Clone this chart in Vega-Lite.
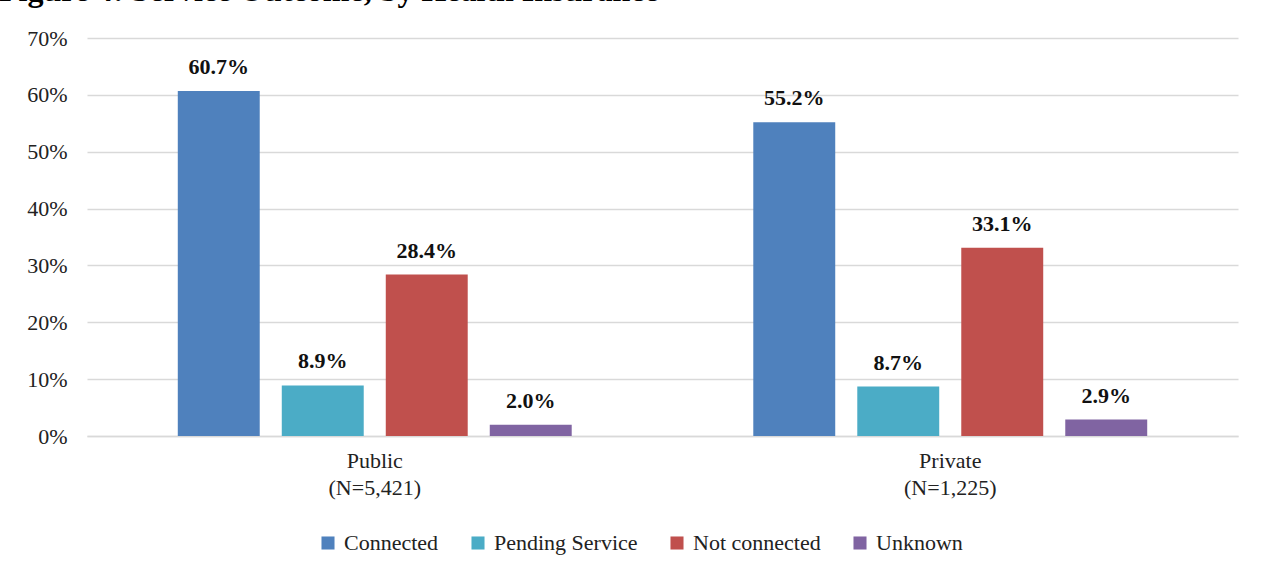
{
  "$schema": "https://vega.github.io/schema/vega-lite/v6.json",
  "width": 1151,
  "height": 398,
  "autosize": {"type": "none"},
  "padding": {"left": 87, "top": 38, "right": 28, "bottom": 138},
  "background": "white",
  "title": {
    "text": "Figure 4: Service Outcome, by Health Insurance",
    "anchor": "start",
    "frame": "group",
    "font": "Liberation Serif, Times New Roman, serif",
    "fontSize": 32,
    "fontWeight": "bold",
    "color": "black",
    "baseline": "alphabetic",
    "dx": -88,
    "offset": 0,
    "dy": 6
  },
  "data": {
    "values": [
      {"group": "Public|(N=5,421)", "outcome": "Connected", "pct": 0.607},
      {"group": "Public|(N=5,421)", "outcome": "Pending Service", "pct": 0.089},
      {"group": "Public|(N=5,421)", "outcome": "Not connected", "pct": 0.284},
      {"group": "Public|(N=5,421)", "outcome": "Unknown", "pct": 0.020},
      {"group": "Private|(N=1,225)", "outcome": "Connected", "pct": 0.552},
      {"group": "Private|(N=1,225)", "outcome": "Pending Service", "pct": 0.087},
      {"group": "Private|(N=1,225)", "outcome": "Not connected", "pct": 0.331},
      {"group": "Private|(N=1,225)", "outcome": "Unknown", "pct": 0.029}
    ]
  },
  "encoding": {
    "x": {
      "field": "group",
      "type": "nominal",
      "sort": null,
      "scale": {"paddingInner": 0, "paddingOuter": 0},
      "axis": {
        "title": null,
        "labelAngle": 0,
        "labelExpr": "split(datum.value, '|')",
        "labelFontSize": 22,
        "labelColor": "#222222",
        "labelLineHeight": 27,
        "labelPadding": 14,
        "ticks": false,
        "domainColor": "#d9d9d9",
        "domainWidth": 1.5,
        "grid": false
      }
    },
    "xOffset": {
      "field": "outcome",
      "type": "nominal",
      "sort": ["Connected", "Pending Service", "Not connected", "Unknown"],
      "scale": {"paddingInner": 0.212, "paddingOuter": 0.873}
    },
    "y": {
      "field": "pct",
      "type": "quantitative",
      "scale": {"domain": [0, 0.7]},
      "axis": {
        "title": null,
        "values": [0, 0.1, 0.2, 0.3, 0.4, 0.5, 0.6, 0.7],
        "format": ".0%",
        "labelFontSize": 22,
        "labelColor": "#222222",
        "labelPadding": 20,
        "ticks": false,
        "domain": false,
        "gridColor": "#d9d9d9",
        "gridWidth": 1.5
      }
    }
  },
  "layer": [
    {
      "mark": {"type": "bar"},
      "encoding": {
        "color": {
          "field": "outcome",
          "type": "nominal",
          "sort": ["Connected", "Pending Service", "Not connected", "Unknown"],
          "scale": {
            "domain": ["Connected", "Pending Service", "Not connected", "Unknown"],
            "range": ["#4F81BD", "#4BACC6", "#C0504D", "#8064A2"]
          },
          "legend": {
            "title": null,
            "orient": "none",
            "legendX": 230,
            "legendY": 494,
            "direction": "horizontal",
            "symbolType": "square",
            "symbolSize": 170,
            "symbolStrokeWidth": 0,
            "labelFontSize": 22,
            "labelColor": "#222222",
            "columnPadding": 28,
            "labelOffset": 5
          }
        }
      }
    },
    {
      "mark": {
        "type": "text",
        "baseline": "alphabetic",
        "dy": -17,
        "fontSize": 22,
        "fontWeight": "bold",
        "color": "#111111"
      },
      "encoding": {
        "text": {"field": "pct", "type": "quantitative", "format": ".1%"},
        "detail": {"field": "outcome"}
      }
    }
  ],
  "config": {
    "view": {"stroke": null},
    "font": "Liberation Serif, Times New Roman, serif",
    "axis": {"labelFont": "Liberation Serif, Times New Roman, serif"},
    "legend": {"labelFont": "Liberation Serif, Times New Roman, serif"},
    "text": {"font": "Liberation Serif, Times New Roman, serif"}
  }
}
